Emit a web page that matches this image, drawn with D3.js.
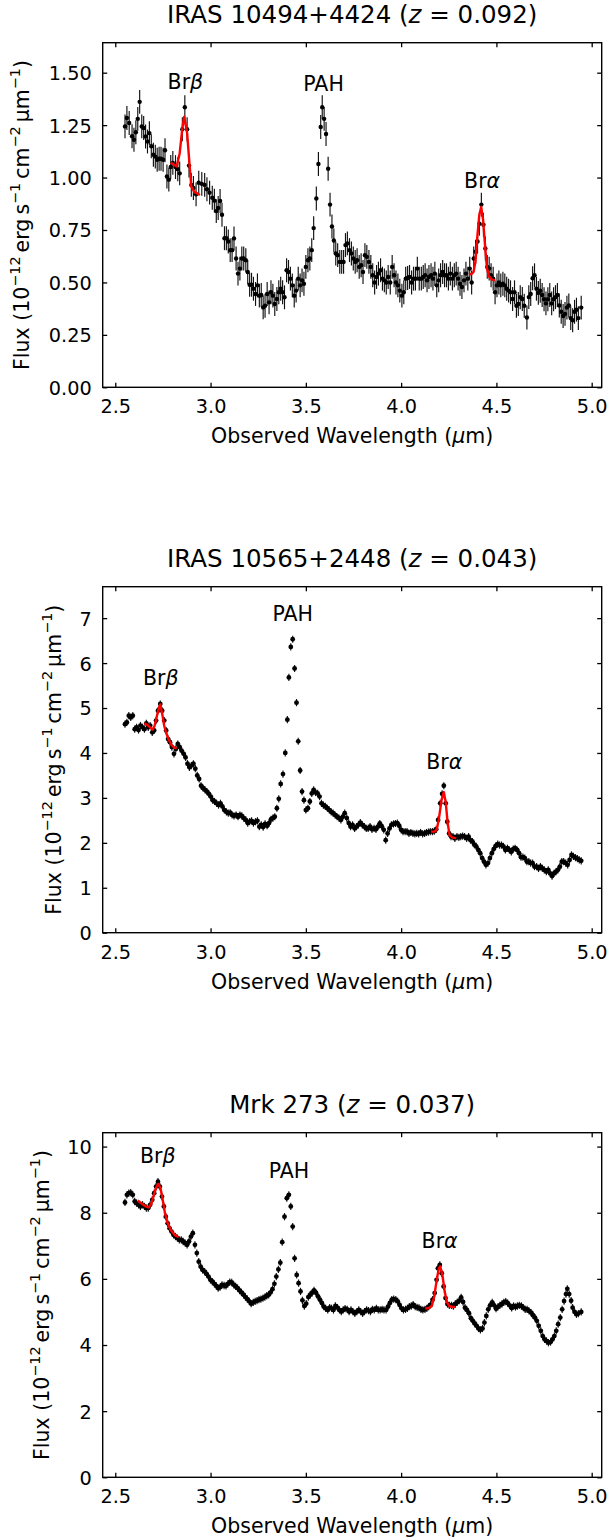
<!DOCTYPE html>
<html><head><meta charset="utf-8">
<script src="https://cdn.jsdelivr.net/npm/d3@7"></script>
<style>body{margin:0;background:#fff} text{font-family:"DejaVu Sans",sans-serif;fill:#000}</style>
</head><body>
<svg id="chart" width="609" height="1540"></svg>
<script>
// ---------- DATA ----------
const titles = [
  ["IRAS 10494+4424 (", "z", " = 0.092)"],
  ["IRAS 10565+2448 (", "z", " = 0.043)"],
  ["Mrk 273 (", "z", " = 0.037)"]
];
const xTicks = [2.5, 3.0, 3.5, 4.0, 4.5, 5.0];
const xTickLabels = ["2.5", "3.0", "3.5", "4.0", "4.5", "5.0"];
const xLimits = [2.434, 5.0525];
const yLimits = [[0, 1.643], [0, 7.70], [0, 10.42]];
const yTicks1 = [0, 0.25, 0.5, 0.75, 1.0, 1.25, 1.5];
const yTickLabels1 = ["0.00", "0.25", "0.50", "0.75", "1.00", "1.25", "1.50"];
const yTicks2 = [0, 1, 2, 3, 4, 5, 6, 7];
const yTickLabels2 = ["0", "1", "2", "3", "4", "5", "6", "7"];
const yTicks3 = [0, 2, 4, 6, 8, 10];
const yTickLabels3 = ["0", "2", "4", "6", "8", "10"];
const errBar = [0.057, 0.08, 0.11];

// Panel 1: IRAS 10494+4424
const wave1 = [2.551,2.561,2.573,2.588,2.598,2.608,2.618,2.628,2.639,2.649,2.659,2.669,2.679,2.689,2.700,2.710,2.720,2.730,2.740,2.751,2.761,2.771,2.781,2.791,2.802,2.816,2.828,2.838,2.852,2.865,2.877,2.887,2.899,2.910,2.924,2.938,2.954,2.969,2.981,2.995,3.009,3.020,3.030,3.040,3.050,3.060,3.073,3.083,3.093,3.103,3.113,3.123,3.134,3.144,3.154,3.164,3.174,3.185,3.195,3.205,3.215,3.225,3.236,3.246,3.256,3.266,3.276,3.286,3.297,3.307,3.317,3.327,3.337,3.348,3.358,3.368,3.378,3.388,3.399,3.409,3.419,3.429,3.439,3.449,3.460,3.470,3.480,3.490,3.500,3.511,3.521,3.531,3.541,3.555,3.566,3.578,3.586,3.596,3.606,3.617,3.627,3.637,3.647,3.657,3.667,3.678,3.688,3.698,3.708,3.718,3.729,3.739,3.749,3.759,3.769,3.780,3.790,3.800,3.810,3.820,3.831,3.841,3.851,3.861,3.871,3.881,3.892,3.902,3.912,3.922,3.932,3.943,3.953,3.963,3.973,3.983,3.993,4.004,4.014,4.024,4.034,4.044,4.055,4.065,4.075,4.085,4.095,4.106,4.116,4.126,4.136,4.146,4.157,4.167,4.177,4.187,4.197,4.207,4.218,4.228,4.238,4.248,4.258,4.269,4.279,4.289,4.299,4.309,4.319,4.330,4.340,4.350,4.360,4.370,4.381,4.391,4.401,4.411,4.421,4.432,4.442,4.452,4.462,4.472,4.483,4.493,4.503,4.513,4.523,4.534,4.544,4.554,4.564,4.574,4.585,4.595,4.605,4.615,4.625,4.636,4.646,4.660,4.670,4.680,4.690,4.700,4.710,4.720,4.730,4.740,4.750,4.760,4.770,4.780,4.790,4.800,4.810,4.820,4.830,4.840,4.850,4.860,4.870,4.880,4.890,4.900,4.910,4.920,4.930,4.945];
const flux1 = [1.244,1.284,1.26,1.197,1.18,1.216,1.28,1.361,1.244,1.236,1.196,1.172,1.212,1.149,1.109,1.10,1.085,1.09,1.09,1.085,1.13,1.005,0.99,1.05,1.07,1.05,1.04,1.02,1.23,1.335,1.23,1.057,0.965,0.95,0.92,0.975,0.97,0.965,0.944,0.928,0.904,0.89,0.84,0.855,0.888,0.823,0.711,0.711,0.695,0.654,0.654,0.71,0.614,0.542,0.566,0.614,0.614,0.606,0.55,0.489,0.489,0.47,0.445,0.486,0.437,0.44,0.381,0.389,0.445,0.405,0.453,0.437,0.397,0.421,0.453,0.47,0.453,0.429,0.558,0.55,0.518,0.486,0.437,0.461,0.518,0.486,0.51,0.494,0.574,0.606,0.614,0.654,0.759,0.90,1.065,1.241,1.335,1.28,1.208,1.042,0.871,0.767,0.70,0.638,0.63,0.598,0.598,0.598,0.678,0.686,0.654,0.638,0.614,0.598,0.606,0.574,0.582,0.55,0.63,0.622,0.598,0.574,0.534,0.50,0.526,0.542,0.558,0.518,0.51,0.50,0.526,0.50,0.574,0.534,0.50,0.486,0.461,0.437,0.453,0.518,0.521,0.526,0.50,0.518,0.518,0.566,0.518,0.518,0.526,0.534,0.51,0.526,0.534,0.518,0.542,0.486,0.51,0.534,0.55,0.534,0.534,0.518,0.542,0.518,0.534,0.542,0.518,0.494,0.478,0.51,0.542,0.518,0.566,0.50,0.614,0.646,0.695,0.78,0.871,0.775,0.662,0.574,0.566,0.534,0.518,0.453,0.486,0.50,0.486,0.494,0.486,0.47,0.461,0.453,0.421,0.453,0.389,0.397,0.429,0.421,0.389,0.333,0.43,0.445,0.52,0.534,0.47,0.45,0.46,0.44,0.42,0.40,0.42,0.44,0.40,0.42,0.43,0.44,0.39,0.36,0.34,0.35,0.38,0.39,0.33,0.32,0.36,0.37,0.33,0.38];
const fitWave1a = [2.791,2.806,2.822,2.838,2.852,2.862,2.877,2.889,2.899,2.914,2.944];
const fitFlux1a = [1.072,1.062,1.053,1.116,1.236,1.29,1.212,1.07,0.957,0.933,0.917];
const fitWave1b = [4.356,4.370,4.380,4.390,4.400,4.410,4.420,4.430,4.440,4.450,4.460,4.475,4.493];
const fitFlux1b = [0.539,0.54,0.55,0.60,0.72,0.82,0.86,0.80,0.68,0.57,0.53,0.515,0.51];

// Panel 2: IRAS 10565+2448
const wave2 = [2.551,2.561,2.571,2.581,2.592,2.602,2.612,2.622,2.632,2.643,2.653,2.663,2.673,2.683,2.694,2.704,2.714,2.724,2.736,2.746,2.757,2.767,2.777,2.787,2.797,2.808,2.818,2.828,2.838,2.848,2.859,2.869,2.879,2.889,2.899,2.910,2.920,2.930,2.940,2.950,2.960,2.971,2.981,2.991,3.001,3.011,3.021,3.032,3.042,3.052,3.062,3.072,3.083,3.093,3.103,3.113,3.123,3.134,3.144,3.154,3.164,3.174,3.185,3.195,3.205,3.215,3.225,3.236,3.246,3.256,3.266,3.276,3.286,3.297,3.307,3.317,3.327,3.337,3.348,3.358,3.368,3.380,3.392,3.403,3.411,3.421,3.431,3.441,3.451,3.460,3.470,3.480,3.490,3.500,3.511,3.521,3.531,3.541,3.551,3.562,3.572,3.582,3.592,3.602,3.613,3.623,3.633,3.643,3.653,3.664,3.674,3.684,3.694,3.704,3.715,3.725,3.735,3.745,3.756,3.766,3.776,3.786,3.796,3.807,3.817,3.827,3.837,3.847,3.858,3.868,3.878,3.888,3.898,3.909,3.919,3.929,3.939,3.949,3.960,3.970,3.980,3.990,4.000,4.010,4.021,4.031,4.041,4.051,4.062,4.072,4.082,4.092,4.102,4.113,4.123,4.133,4.143,4.153,4.164,4.174,4.184,4.194,4.205,4.215,4.224,4.234,4.242,4.252,4.262,4.272,4.282,4.293,4.303,4.313,4.323,4.333,4.344,4.354,4.364,4.374,4.384,4.394,4.405,4.415,4.425,4.435,4.445,4.456,4.466,4.476,4.486,4.496,4.507,4.517,4.527,4.537,4.547,4.558,4.568,4.578,4.588,4.598,4.609,4.619,4.629,4.639,4.649,4.660,4.670,4.680,4.690,4.700,4.711,4.721,4.731,4.741,4.751,4.762,4.772,4.782,4.792,4.802,4.813,4.823,4.833,4.843,4.853,4.864,4.874,4.884,4.894,4.904,4.915,4.925,4.935,4.945];
const flux2 = [4.64,4.68,4.83,4.79,4.83,4.53,4.57,4.51,4.61,4.57,4.53,4.66,4.57,4.61,4.46,4.50,4.72,4.94,5.09,4.94,4.72,4.50,4.31,4.24,4.13,3.98,4.09,4.20,4.13,4.05,3.98,3.90,3.76,3.68,3.72,3.76,3.65,3.50,3.42,3.27,3.22,3.18,3.14,3.09,3.03,2.95,2.92,2.88,2.84,2.88,2.81,2.73,2.69,2.66,2.67,2.62,2.60,2.62,2.58,2.62,2.60,2.55,2.51,2.44,2.47,2.49,2.44,2.47,2.49,2.36,2.40,2.35,2.42,2.38,2.44,2.52,2.55,2.58,2.77,2.98,3.31,3.53,4.00,4.74,5.68,6.36,6.53,5.88,5.12,4.26,3.61,3.14,2.95,2.73,2.77,2.92,3.10,3.18,3.12,3.10,3.03,2.88,2.84,2.81,2.77,2.73,2.69,2.66,2.62,2.58,2.55,2.51,2.58,2.66,2.55,2.44,2.36,2.40,2.32,2.36,2.40,2.45,2.40,2.36,2.32,2.32,2.36,2.30,2.32,2.30,2.36,2.43,2.37,2.29,2.06,2.21,2.32,2.40,2.42,2.43,2.44,2.38,2.29,2.25,2.25,2.25,2.21,2.23,2.21,2.20,2.21,2.20,2.23,2.20,2.21,2.23,2.24,2.25,2.25,2.26,2.30,2.51,2.88,3.09,3.27,2.88,2.47,2.21,2.14,2.14,2.10,2.14,2.12,2.14,2.15,2.14,2.10,2.14,2.06,2.03,1.96,1.92,1.84,1.77,1.66,1.58,1.51,1.55,1.66,1.77,1.86,1.93,1.97,1.95,1.95,1.92,1.84,1.88,1.84,1.80,1.86,1.88,1.84,1.77,1.68,1.68,1.66,1.58,1.58,1.55,1.55,1.47,1.47,1.43,1.47,1.43,1.40,1.36,1.40,1.32,1.26,1.32,1.36,1.40,1.47,1.58,1.58,1.55,1.51,1.62,1.73,1.70,1.67,1.65,1.62,1.60];
const fitWave2a = [2.653,2.670,2.685,2.696,2.706,2.716,2.727,2.736,2.746,2.757,2.767,2.780,2.797,2.810,2.822];
const fitFlux2a = [4.66,4.62,4.56,4.52,4.60,4.78,4.98,5.08,4.88,4.60,4.45,4.30,4.17,4.12,4.10];
const fitWave2b = [4.157,4.177,4.187,4.197,4.212,4.224,4.234,4.244,4.254,4.268,4.289];
const fitFlux2b = [2.25,2.25,2.30,2.50,2.95,3.13,2.90,2.45,2.17,2.12,2.10];

// Panel 3: Mrk 273
const wave3 = [2.551,2.561,2.571,2.581,2.592,2.602,2.612,2.622,2.632,2.643,2.653,2.663,2.673,2.683,2.694,2.704,2.714,2.724,2.734,2.745,2.755,2.765,2.775,2.785,2.795,2.806,2.816,2.826,2.836,2.846,2.856,2.867,2.877,2.887,2.897,2.907,2.918,2.928,2.938,2.948,2.958,2.969,2.979,2.989,2.999,3.009,3.020,3.030,3.040,3.050,3.060,3.071,3.081,3.091,3.101,3.111,3.122,3.132,3.142,3.152,3.162,3.173,3.183,3.193,3.203,3.213,3.224,3.234,3.244,3.254,3.264,3.275,3.285,3.295,3.305,3.315,3.325,3.335,3.345,3.356,3.366,3.376,3.388,3.400,3.411,3.421,3.431,3.441,3.452,3.462,3.472,3.482,3.492,3.502,3.513,3.523,3.533,3.543,3.553,3.564,3.574,3.584,3.594,3.604,3.615,3.625,3.635,3.645,3.655,3.666,3.676,3.686,3.696,3.706,3.717,3.727,3.737,3.747,3.757,3.768,3.778,3.788,3.798,3.808,3.819,3.829,3.839,3.849,3.859,3.870,3.880,3.890,3.900,3.910,3.921,3.931,3.941,3.951,3.961,3.972,3.982,3.992,4.002,4.012,4.023,4.033,4.043,4.053,4.063,4.074,4.084,4.094,4.104,4.114,4.125,4.135,4.145,4.155,4.165,4.176,4.186,4.193,4.203,4.213,4.223,4.233,4.243,4.253,4.264,4.274,4.284,4.294,4.305,4.315,4.325,4.335,4.345,4.356,4.366,4.376,4.386,4.396,4.406,4.416,4.427,4.437,4.447,4.457,4.467,4.478,4.488,4.498,4.508,4.518,4.529,4.539,4.549,4.559,4.569,4.580,4.590,4.600,4.610,4.620,4.631,4.641,4.651,4.661,4.671,4.682,4.692,4.702,4.712,4.722,4.733,4.743,4.753,4.763,4.773,4.784,4.794,4.804,4.814,4.824,4.835,4.845,4.855,4.865,4.872,4.882,4.892,4.900,4.910,4.920,4.930,4.945];
const flux3 = [8.31,8.54,8.59,8.61,8.54,8.34,8.29,8.24,8.19,8.24,8.19,8.14,8.14,8.24,8.39,8.59,8.79,8.94,8.79,8.49,8.19,7.88,7.68,7.53,7.43,7.33,7.28,7.23,7.18,7.18,7.13,7.08,7.03,7.13,7.28,7.38,7.03,6.78,6.52,6.37,6.27,6.22,6.15,6.07,5.97,5.92,5.85,5.79,5.72,5.75,5.82,5.80,5.79,5.85,5.90,5.89,5.82,5.77,5.72,5.65,5.59,5.52,5.45,5.39,5.32,5.25,5.29,5.32,5.34,5.37,5.39,5.42,5.45,5.49,5.52,5.59,5.69,5.85,6.07,6.29,6.49,7.11,7.88,8.44,8.54,8.19,7.58,6.62,6.12,5.87,5.62,5.35,5.18,5.25,5.45,5.52,5.58,5.65,5.58,5.47,5.37,5.27,5.16,5.11,5.06,5.13,5.11,5.06,5.18,5.13,5.06,5.01,5.06,5.10,5.08,5.01,5.06,5.01,4.96,5.01,5.06,5.01,4.96,5.01,5.06,5.04,5.01,5.08,5.06,5.11,5.06,5.06,5.08,5.06,5.06,5.16,5.27,5.37,5.39,5.37,5.32,5.21,5.11,5.06,5.08,5.11,5.16,5.18,5.22,5.16,5.14,5.12,5.08,5.06,5.08,5.11,5.16,5.22,5.37,5.57,5.97,6.32,6.42,6.17,5.77,5.42,5.24,5.20,5.20,5.18,5.24,5.29,5.34,5.44,5.30,5.13,5.06,4.96,4.81,4.73,4.65,4.58,4.50,4.46,4.50,4.68,4.88,5.08,5.20,5.29,5.20,5.10,5.15,5.20,5.24,5.29,5.31,5.27,5.20,5.12,5.18,5.15,5.18,5.20,5.18,5.13,5.08,5.08,5.03,4.98,4.90,4.83,4.73,4.58,4.43,4.27,4.17,4.12,4.07,4.09,4.17,4.27,4.43,4.63,4.83,5.08,5.33,5.54,5.70,5.54,5.34,5.13,5.00,4.93,4.95,5.00];
const fitWave3a = [2.618,2.640,2.660,2.675,2.690,2.700,2.714,2.726,2.737,2.747,2.761,2.775,2.791,2.812,2.832];
const fitFlux3a = [8.37,8.27,8.19,8.16,8.28,8.49,8.75,8.87,8.75,8.45,7.98,7.68,7.48,7.33,7.26];
const fitWave3b = [4.126,4.146,4.161,4.173,4.185,4.197,4.205,4.217,4.229,4.240,4.252,4.268,4.283];
const fitFlux3b = [5.10,5.12,5.18,5.45,5.90,6.30,6.38,6.10,5.60,5.30,5.18,5.15,5.15];

// line labels: [text, greek letter, wavelength anchor, flux anchor]
const ann1 = [["Br","β",2.868,1.422],["PAH","",3.593,1.413],["Br","α",4.425,0.950]];
const ann2 = [["Br","β",2.739,5.52],["PAH","",3.431,6.94],["Br","α",4.226,3.65]];
const ann3 = [["Br","β",2.723,9.51],["PAH","",3.411,9.05],["Br","α",4.202,6.94]];

// ---------- LAYOUT ----------
const svg = d3.select("#chart");
svg.append("rect").attr("width",609).attr("height",1540).attr("fill","#fff");
const L = 102.7, R = 601.7;
const tops = [42.7, 586.7, 1132.7], bottoms = [387.3, 932.7, 1477.3];
const ylabX = [29, 61, 49];
const markR = [2.2, 2.4, 2.4];
const TICK_FS = 19.3, LAB_FS = 20.5, TITLE_FS = 24.5;

const panels = [
  {title: titles[0], w: wave1, f: flux1, err: errBar[0], yl: yLimits[0], yt: yTicks1, ytl: yTickLabels1,
   fits: [[fitWave1a, fitFlux1a], [fitWave1b, fitFlux1b]], ann: ann1},
  {title: titles[1], w: wave2, f: flux2, err: errBar[1], yl: yLimits[1], yt: yTicks2, ytl: yTickLabels2,
   fits: [[fitWave2a, fitFlux2a], [fitWave2b, fitFlux2b]], ann: ann2},
  {title: titles[2], w: wave3, f: flux3, err: errBar[2], yl: yLimits[2], yt: yTicks3, ytl: yTickLabels3,
   fits: [[fitWave3a, fitFlux3a], [fitWave3b, fitFlux3b]], ann: ann3}
];

function rich(g, x, y, parts, size) {
  const t = g.append("text").attr("x", x).attr("y", y).attr("font-size", size).attr("text-anchor", "middle");
  let up = false;
  parts.forEach(([s, k]) => {
    if (s === "") return;
    const sp = t.append("tspan").text(s);
    if (k === "s") {
      sp.attr("font-size", size * 0.7);
      if (!up) { sp.attr("dy", -0.42 * size); up = true; }
    } else {
      if (up) { sp.attr("dy", 0.42 * size); up = false; }
      if (k === "i") sp.attr("font-style", "italic");
    }
  });
  return t;
}

panels.forEach((p, i) => {
  const top = tops[i], bot = bottoms[i];
  const x = d3.scaleLinear().domain(xLimits).range([L, R]);
  const y = d3.scaleLinear().domain(p.yl).range([bot, top]);
  const g = svg.append("g");

  // axes
  const ax = g.append("g").attr("transform", `translate(0,${bot})`)
    .call(d3.axisBottom(x).tickValues(xTicks).tickFormat((d, j) => xTickLabels[j])
      .tickSizeInner(-4.5).tickSizeOuter(0).tickPadding(12.3));
  const axT = g.append("g").attr("transform", `translate(0,${top})`)
    .call(d3.axisTop(x).tickValues(xTicks).tickFormat(() => "").tickSizeInner(-4.5).tickSizeOuter(0));
  const ay = g.append("g").attr("transform", `translate(${L},0)`)
    .call(d3.axisLeft(y).tickValues(p.yt).tickFormat((d, j) => p.ytl[j])
      .tickSizeInner(-4.5).tickSizeOuter(0).tickPadding(11));
  const ayR = g.append("g").attr("transform", `translate(${R},0)`)
    .call(d3.axisRight(y).tickValues(p.yt).tickFormat(() => "").tickSizeInner(-4.5).tickSizeOuter(0));
  [ax, axT, ay, ayR].forEach(a => {
    a.select(".domain").remove();
    a.selectAll(".tick line").attr("stroke", "#000").attr("stroke-width", 1.3);
    a.selectAll(".tick text").attr("font-size", TICK_FS).attr("font-family", "DejaVu Sans").attr("fill", "#000");
  });
  axT.selectAll(".tick text").remove();
  ayR.selectAll(".tick text").remove();
  ay.selectAll(".tick text").attr("dy", "0.36em");

  // frame
  g.append("rect").attr("x", L).attr("y", top).attr("width", R - L).attr("height", bot - top)
    .attr("fill", "none").attr("stroke", "#000").attr("stroke-width", 1.4);

  // data
  const n = Math.min(p.w.length, p.f.length);
  const data = p.w.slice(0, n).map((w, j) => ({w, f: p.f[j]}));
  const dg = g.append("g");
  dg.selectAll("line.err").data(data).enter().append("line")
    .attr("x1", d => x(d.w)).attr("x2", d => x(d.w))
    .attr("y1", d => y(d.f - p.err)).attr("y2", d => y(d.f + p.err))
    .attr("stroke", "#111").attr("stroke-width", 1.15);
  dg.selectAll("circle").data(data).enter().append("circle")
    .attr("cx", d => x(d.w)).attr("cy", d => y(d.f)).attr("r", markR[i]).attr("fill", "#000");

  // fits
  const line = d3.line().x(d => x(d[0])).y(d => y(d[1]));
  p.fits.forEach(([fw, ff]) => {
    g.append("path").datum(fw.map((w, j) => [w, ff[j]])).attr("d", line)
      .attr("fill", "none").attr("stroke", "#ff0000").attr("stroke-width", 2.4)
      .attr("stroke-linejoin", "round");
  });

  // annotations
  p.ann.forEach(a => {
    rich(g, x(a[2]), y(a[3]), [[a[0], "n"], [a[1], "i"]], LAB_FS);
  });

  // title
  rich(g, (L + R) / 2, top - 19.7, [[p.title[0], "n"], [p.title[1], "i"], [p.title[2], "n"]], TITLE_FS);

  // x label
  rich(g, (L + R) / 2, bot + 56, [["Observed Wavelength (", "n"], ["μ", "i"], ["m)", "n"]], LAB_FS);

  // y label
  const yl = g.append("g").attr("transform", `translate(${ylabX[i]},${(top + bot) / 2}) rotate(-90)`);
  rich(yl, 0, 0, [["Flux (10", "n"], ["−12", "s"], ["\u2009erg\u2009s", "n"], ["−1", "s"],
    ["\u2009cm", "n"], ["−2", "s"], ["\u2009μm", "n"], ["−1", "s"], [")", "n"]], LAB_FS);
});
</script>
</body></html>
